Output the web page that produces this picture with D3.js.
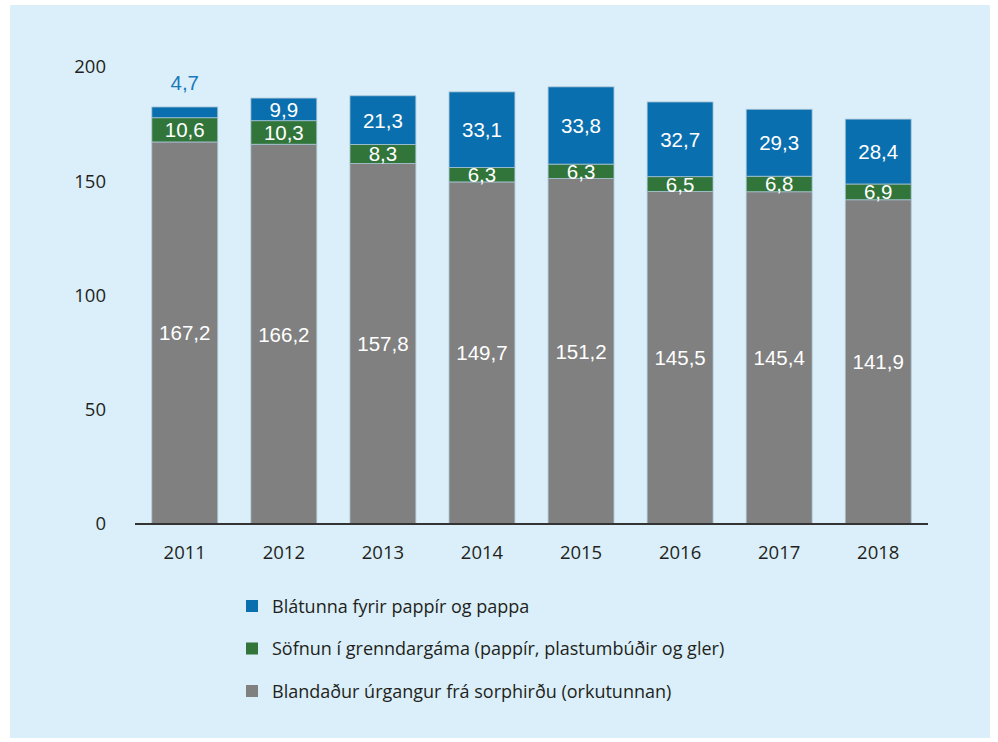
<!DOCTYPE html>
<html><head><meta charset="utf-8">
<script src="https://cdn.jsdelivr.net/npm/d3@7"></script>
<style>body{margin:0;background:#fff;}svg{display:block;}</style>
</head><body>
<script>
const years = ["2011","2012","2013","2014","2015","2016","2017","2018"];
const mixed = [167.2,166.2,157.8,149.7,151.2,145.5,145.4,141.9];
const green = [10.6,10.3,8.3,6.3,6.3,6.5,6.8,6.9];
const blue = [4.7,9.9,21.3,33.1,33.8,32.7,29.3,28.4];
const yTicks = [0,50,100,150,200];
const seriesNames = ["Blátunna fyrir pappír og pappa","Söfnun í grenndargáma (pappír, plastumbúðir og gler)","Blandaður úrgangur frá sorphirðu (orkutunnan)"];
const colors = {mixed:"#808080", green:"#31753b", blue:"#0a6fae"};

const W=998,H=742;
const svg=d3.select("body").append("svg").attr("width",W).attr("height",H);
svg.append("rect").attr("x",10).attr("y",5).attr("width",980).attr("height",733).attr("fill","#daeff9");

const x=d3.scaleBand().domain(years).range([135,928]).paddingInner(0.335).paddingOuter(0.17);
const y=d3.scaleLinear().domain([0,200]).range([524,67]);

const data=years.map((yr,i)=>({year:yr,mixed:mixed[i],green:green[i],blue:blue[i]}));
const stack=d3.stack().keys(["mixed","green","blue"])(data);

const g=svg.append("g");
stack.forEach(layer=>{
  g.selectAll(null).data(layer).join("rect")
   .attr("x",d=>x(d.data.year)).attr("width",x.bandwidth())
   .attr("y",d=>y(d[1])).attr("height",d=>y(d[0])-y(d[1]))
   .attr("fill",colors[layer.key])
   .attr("stroke","#a9c3d3").attr("stroke-width",0.8);
});
const fmt=v=>v.toFixed(1).replace(".",",");
stack.forEach(layer=>{
  g.selectAll(null).data(layer).join("text")
   .attr("x",d=>x(d.data.year)+x.bandwidth()/2)
   .attr("y",d=>{
     const h=y(d[0])-y(d[1]);
     if(layer.key==="blue" && h<20) return y(d[1])-16.5;
     return (y(d[0])+y(d[1]))/2+7.4;
   })
   .attr("text-anchor","middle")
   .attr("font-family","Liberation Sans, Arial, sans-serif").attr("font-size",20.5)
   .attr("fill",d=>(layer.key==="blue" && (y(d[0])-y(d[1]))<20)?"#1a7abb":"#fff")
   .text(d=>fmt(d.data[layer.key]));
});

// baseline
svg.append("line").attr("x1",135).attr("x2",928).attr("y1",y(0)).attr("y2",y(0)).attr("stroke","#333").attr("stroke-width",2);

// y ticks
const yAxis=d3.axisLeft(y).tickValues(yTicks).tickSize(0).tickPadding(0);
const ya=svg.append("g").attr("transform","translate(106,0)").call(yAxis);
ya.select(".domain").remove();
ya.selectAll("text").attr("font-family","Open Sans, sans-serif").attr("font-size",18.5).attr("fill","#231f20");

// x ticks
const xAxis=d3.axisBottom(x).tickSize(0).tickPadding(0);
const xa=svg.append("g").attr("transform","translate(0,553)").call(xAxis);
xa.select(".domain").remove();
xa.selectAll("text").attr("font-family","Open Sans, sans-serif").attr("font-size",18.5).attr("fill","#231f20").attr("dy","0.35em");

// legend
const legCols=[colors.blue,colors.green,colors.mixed];
const leg=svg.append("g");
seriesNames.forEach((n,i)=>{
  const yy=606+i*42.5;
  leg.append("rect").attr("x",246).attr("y",yy-6).attr("width",12).attr("height",12).attr("fill",legCols[i]);
  leg.append("text").attr("x",272).attr("y",yy+6.5).attr("font-family","Open Sans, sans-serif").attr("font-size",18).attr("fill","#231f20").text(n);
});
</script>
</body></html>
